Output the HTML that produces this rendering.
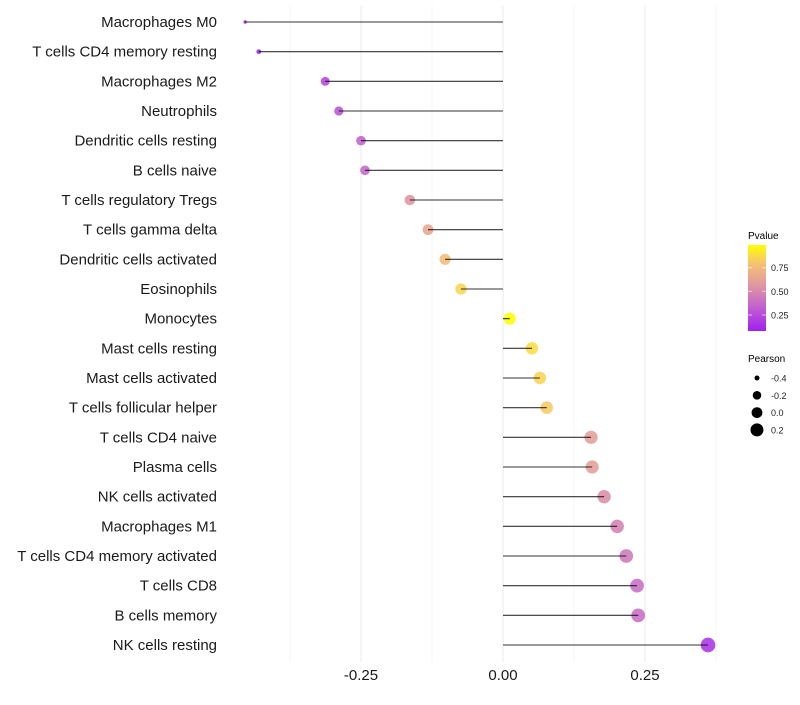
<!DOCTYPE html>
<html><head><meta charset="utf-8"><style>
body{margin:0;background:#fff;}
svg text{font-family:"Liberation Sans",sans-serif;}
</style></head><body>
<svg width="800" height="700" xmlns="http://www.w3.org/2000/svg">
<defs>
<linearGradient id="pg" x1="0" y1="1" x2="0" y2="0">
<stop offset="0" stop-color="#A020F0"/>
<stop offset="0.3" stop-color="#C466CC"/>
<stop offset="0.55" stop-color="#E29A9E"/>
<stop offset="0.8" stop-color="#F6C66C"/>
<stop offset="1" stop-color="#FFFF00"/>
</linearGradient>
</defs>
<g id="grid"></g>
<g id="marks"></g>
<g id="labels"></g>
<g id="xt"></g>
<g>
<text x="748" y="239" font-size="10">Pvalue</text>
<rect x="748" y="245" width="18" height="86" fill="url(#pg)"/>
<g id="cbt"></g>
</g>
<g id="sizeleg">
<text x="748" y="362" font-size="10">Pearson</text>
</g>
</svg>
<script>
const categories=["Macrophages M0","T cells CD4 memory resting","Macrophages M2","Neutrophils","Dendritic cells resting","B cells naive","T cells regulatory  Tregs ","T cells gamma delta","Dendritic cells activated","Eosinophils","Monocytes","Mast cells resting","Mast cells activated","T cells follicular helper","T cells CD4 naive","Plasma cells","NK cells activated","Macrophages M1","T cells CD4 memory activated","T cells CD8","B cells memory","NK cells resting"];
const pearson=[-0.454,-0.430,-0.313,-0.289,-0.250,-0.243,-0.164,-0.132,-0.102,-0.074,0.012,0.051,0.065,0.077,0.155,0.157,0.178,0.201,0.217,0.236,0.238,0.361];
const pvalue=[0.08,0.1,0.22,0.27,0.33,0.35,0.55,0.64,0.76,0.85,0.99,0.88,0.85,0.82,0.6,0.6,0.52,0.47,0.43,0.38,0.38,0.15];
const xTicks=[-0.25,0,0.25];
const xTickLabels=["-0.25","0.00","0.25"];
const cbTicks=[0.25,0.5,0.75];
const cbTickLabels=["0.25","0.50","0.75"];
const sizeLegend=[-0.4,-0.2,0.0,0.2];
const sizeLegendLabels=["-0.4","-0.2","0.0","0.2"];

const NS="http://www.w3.org/2000/svg";
const x=v=>503+v*568;
const y=i=>22+i*(623/21);
function r(v){let a;if(v>-0.313)a=20+50*(v+0.313);else a=2.9+121*(v+0.454);return Math.sqrt(Math.max(1.5,a));}
const cbY=p=>338.7-(p)*94.7;
const stops=[[0,[160,32,240]],[0.3,[196,102,204]],[0.55,[226,154,158]],[0.8,[246,198,108]],[1,[255,255,0]]];
function col(p){const t=Math.max(0,Math.min(1,(p-0.07)/0.92));for(let k=1;k<stops.length;k++){if(t<=stops[k][0]){const a=stops[k-1],b=stops[k];const f=(t-a[0])/(b[0]-a[0]);return "rgb("+a[1].map((c,j)=>Math.round(c+(b[1][j]-c)*f)).join(",")+")";}}return "rgb(255,255,0)";}
function mk(tag,at,parent){const e=document.createElementNS(NS,tag);for(const k in at)e.setAttribute(k,at[k]);parent.appendChild(e);return e;}
const grid=document.getElementById('grid');
[-0.375,-0.25,-0.125,0,0.125,0.25,0.375].forEach(v=>{const l=mk('line',{x1:x(v),x2:x(v),y1:5,y2:662,stroke:v*8%2===0?'#ebebeb':'#f3f3f3','stroke-width':v*8%2===0?1:0.8},grid);

});
const marks=document.getElementById('marks'),labels=document.getElementById('labels');
categories.forEach((c,i)=>{
const pt=mk('circle',{cx:x(pearson[i]),cy:y(i),r:r(pearson[i]),fill:col(pvalue[i]),'fill-opacity':0.88},marks);


const ln=mk('line',{x1:x(0),x2:x(pearson[i]),y1:y(i),y2:y(i),stroke:'#000','stroke-width':1.1,'stroke-opacity':0.8},marks);


const t=mk('text',{x:217,y:y(i)+5,'text-anchor':'end','font-size':15,fill:'#1a1a1a'},labels);t.textContent=c;


});
const xt=document.getElementById('xt');
xTicks.forEach((v,i)=>{const t=mk('text',{x:x(v),y:680,'text-anchor':'middle','font-size':15,fill:'#1a1a1a'},xt);t.textContent=xTickLabels[i];

});
const cbt=document.getElementById('cbt');
cbTicks.forEach((v,i)=>{mk('line',{x1:748,x2:752,y1:cbY(v),y2:cbY(v),stroke:'#fff','stroke-opacity':0.6},cbt);mk('line',{x1:762,x2:766,y1:cbY(v),y2:cbY(v),stroke:'#fff','stroke-opacity':0.6},cbt);
const t=mk('text',{x:771,y:cbY(v)+3.5,'font-size':9,fill:'#222'},cbt);t.textContent=cbTickLabels[i];

});
const sl=document.getElementById('sizeleg');
sizeLegend.forEach((v,i)=>{const yy=378+i*17.3;const c=mk('circle',{cx:757,cy:yy,r:[2.5,4.3,5.4,6.5][i],fill:'#000'},sl);


const t=mk('text',{x:771,y:yy+3.5,'font-size':9,fill:'#222'},sl);t.textContent=sizeLegendLabels[i];

});
</script>
</body></html>
